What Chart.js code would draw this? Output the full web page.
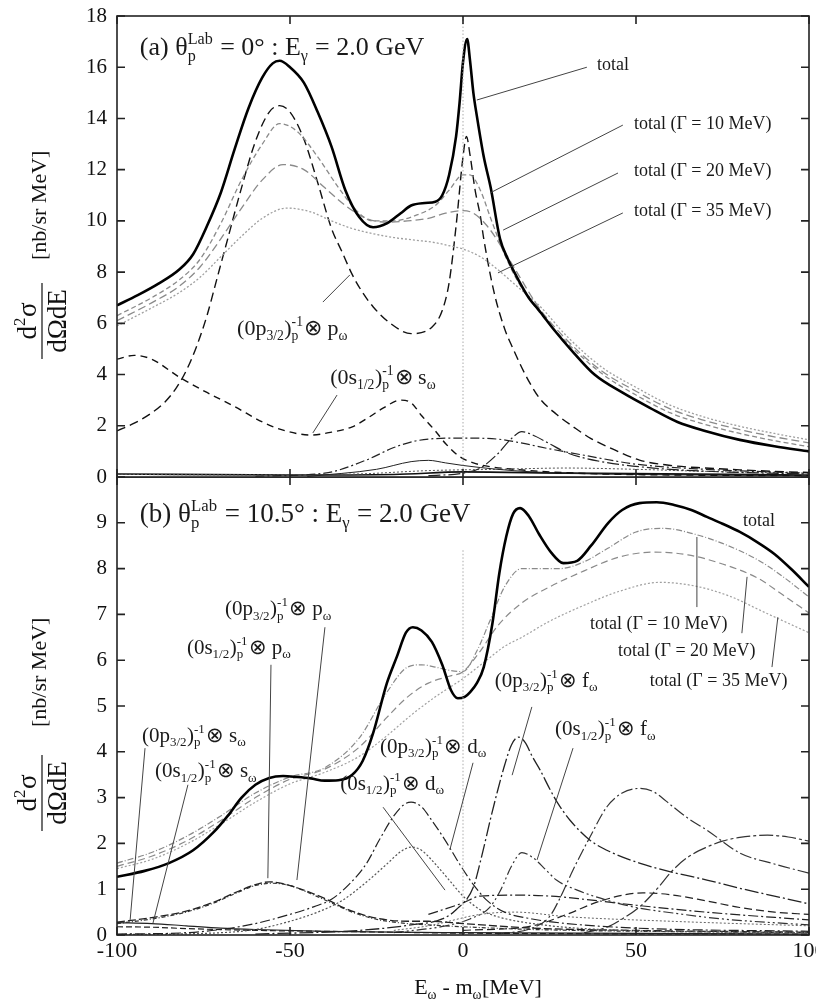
<!DOCTYPE html>
<html lang="en">
<head>
<meta charset="UTF-8">
<title>omega spectra</title>
<script src="https://cdn.jsdelivr.net/npm/chart.js"></script>
<style>
  body { margin: 0; background: #fff; width: 816px; height: 999px; position: relative; overflow: hidden; }
  canvas { position: absolute; left: 0; }
  #topPanel { top: 0; }
  #botPanel { top: 477px; }
</style>
</head>
<body>
<canvas id="topPanel" width="816" height="490"></canvas>
<canvas id="botPanel" width="816" height="522"></canvas>
<script>
// ---- data, panel (a) ----
const xTickValues = [-100, -50, 0, 50, 100];

const aTotalX = [-100,-94,-88,-82,-78,-74,-70,-66,-62,-58,-55,-53,-50,-46,-42,-38,-34,-30,-26,-22,-18,-15,-11,-8,-6,-4,-2,-1,0,1.2,2,3,4,6,8,10.7,13,16,19,22,26,32,38,46,54,62,70,80,90,100];
const aTotalY = [6.7,7.1,7.55,8.1,8.7,9.8,11.1,12.8,14.4,15.6,16.15,16.25,16.0,15.4,14.25,12.9,11.2,10.15,9.75,9.9,10.3,10.6,10.7,10.75,11.0,11.8,13.3,14.6,16.2,17.1,16.3,15.0,14.1,12.5,11.3,9.3,8.5,7.7,7.0,6.5,5.8,4.85,4.0,3.3,2.7,2.15,1.8,1.45,1.2,1.0];

const aG10X = [-100,-90,-82,-76,-70,-64,-58,-53,-48,-42,-36,-30,-26,-20,-14,-8,-4,0,2,5,8,12,16,22,30,40,50,60,70,80,90,100];
const aG10Y = [6.3,7.0,7.7,8.5,9.9,11.6,13.0,13.8,13.5,12.5,11.3,10.3,10.0,10.0,10.2,10.6,11.2,11.8,11.8,11.2,10.1,8.7,7.6,6.45,5.25,4.05,3.2,2.5,2.05,1.7,1.42,1.18];

const aG20X = [-100,-90,-82,-76,-70,-64,-58,-52,-46,-40,-34,-28,-22,-16,-10,-5,0,3,7,12,16,22,30,40,50,60,70,80,90,100];
const aG20Y = [6.1,6.8,7.45,8.2,9.3,10.5,11.6,12.2,12.0,11.3,10.6,10.1,9.95,10.0,10.1,10.3,10.4,10.3,9.8,8.8,7.9,6.6,5.35,4.15,3.35,2.65,2.2,1.85,1.57,1.33];

const aG35X = [-100,-90,-82,-76,-70,-64,-58,-51,-44,-38,-32,-26,-20,-14,-8,-3,0,5,10,16,22,30,40,50,60,70,80,90,100];
const aG35Y = [5.9,6.6,7.2,7.8,8.6,9.4,10.1,10.5,10.35,10.0,9.7,9.5,9.35,9.25,9.15,9.0,8.9,8.6,8.1,7.4,6.7,5.5,4.3,3.5,2.8,2.33,1.98,1.7,1.45];

const aP32pX = [-100,-95,-90,-86,-83,-80,-77,-74,-71,-68,-64,-60,-56,-53,-50,-46,-42,-38,-35,-32,-29,-26,-21,-15,-9,-6,-4,-2,0,1,2,3.5,5,6,9,12,14.5,18,22,27,32,37,42,51,60,70,80,90,100];
const aP32pY = [1.8,2.1,2.5,2.95,3.45,4.15,5.1,6.3,7.8,9.3,11.3,13.1,14.25,14.5,14.25,13.2,11.5,9.7,8.8,7.9,7.2,6.65,6.0,5.6,5.85,6.5,7.6,9.8,12.5,13.3,12.6,11.2,10.2,9.3,7.2,5.8,5.0,4.0,3.1,2.45,1.95,1.5,1.17,0.66,0.45,0.35,0.28,0.22,0.18];

const aS12sX = [-100,-95,-90,-82,-74,-66,-58,-52,-44,-38,-32,-27,-23,-18,-15,-12,-8,-5,-1,3,8,15,25,40,60,100];
const aS12sY = [4.6,4.75,4.6,3.9,3.3,2.75,2.15,1.83,1.64,1.75,1.96,2.35,2.7,3.0,2.9,2.4,1.8,1.3,0.8,0.55,0.4,0.3,0.2,0.12,0.08,0.05];

const aC1X = [-60,-40,-28,-20,-14,-8,0,10,16,25,35,50,70,100];
const aC1Y = [0.03,0.15,0.66,1.15,1.4,1.5,1.52,1.48,1.35,1.1,0.85,0.5,0.3,0.15];
const aC2X = [-10,0,5,10,14,17,20,25,30,40,55,75,100];
const aC2Y = [0.05,0.15,0.35,0.9,1.5,1.77,1.65,1.3,0.95,0.6,0.35,0.2,0.12];
const aC3X = [-45,-25,-15,-10,-5,0,10,20,40,100];
const aC3Y = [0.02,0.3,0.6,0.65,0.55,0.45,0.3,0.2,0.12,0.05];
const aC4X = [-100,-60,-30,-10,10,30,50,70,100];
const aC4Y = [0.1,0.08,0.12,0.25,0.3,0.35,0.3,0.22,0.15];
const aC5X = [-100,-50,-20,0,30,100];
const aC5Y = [0.12,0.08,0.1,0.2,0.15,0.08];

// ---- data, panel (b) ----
const bTotalX = [-100,-92,-85,-78,-72,-68,-64,-60,-56,-52,-48,-44,-40,-36,-32,-29,-26,-22,-19,-16.5,-14.5,-12,-9,-6,-3.5,-1.5,0.5,2,4,6,8.5,10.5,12.5,14.5,16.5,19,22,25.5,29,33,37,42,46,51,56,61,66,70.5,75,80,85,90,95,100];
const bTotalY = [1.27,1.4,1.57,1.85,2.25,2.6,3.0,3.28,3.43,3.47,3.45,3.42,3.37,3.38,3.5,3.8,4.4,5.5,6.1,6.6,6.72,6.65,6.4,5.9,5.35,5.17,5.2,5.3,5.5,5.85,6.8,7.9,8.7,9.2,9.32,9.15,8.75,8.35,8.12,8.17,8.5,9.0,9.28,9.43,9.45,9.39,9.28,9.13,8.98,8.8,8.58,8.32,7.98,7.6];

const bG10X = [-100,-90,-80,-70,-60,-50,-40,-30,-22,-16,-12,-8,-4,0,4,8,12,17,22,28,35,42,50,58,67,75,85,92,100];
const bG10Y = [1.57,1.8,2.15,2.6,3.1,3.45,3.65,4.3,5.3,5.85,5.9,5.85,5.78,5.75,6.2,6.9,7.6,8.0,8.0,8.0,8.15,8.45,8.8,8.88,8.75,8.55,8.2,7.85,7.38];

const bG20X = [-100,-90,-80,-70,-60,-50,-40,-30,-22,-16,-10,-4,0,5,10,17,25,35,45,55,65,75,85,92,100];
const bG20Y = [1.5,1.72,2.05,2.5,3.0,3.4,3.62,4.1,4.75,5.2,5.5,5.65,5.75,6.2,6.75,7.25,7.6,7.95,8.25,8.36,8.3,8.1,7.8,7.45,7.03];

const bG35X = [-100,-90,-80,-70,-60,-50,-40,-30,-22,-15,-8,0,6,12,17,25,35,45,57,67,77,87,100];
const bG35Y = [1.45,1.65,1.98,2.42,2.9,3.3,3.55,3.9,4.35,4.8,5.2,5.6,5.95,6.3,6.5,6.85,7.2,7.5,7.7,7.62,7.4,7.05,6.6];

const bP32dX = [-100,-80,-70,-60,-50,-43,-38,-33,-28,-24,-20,-17,-15,-12,-9,-5,-1,3,7,12,20,30,50,100];
const bP32dY = [0.02,0.05,0.12,0.25,0.45,0.62,0.78,1.1,1.55,2.1,2.6,2.85,2.9,2.8,2.5,2.05,1.55,1.1,0.75,0.5,0.35,0.25,0.15,0.08];
const bS12dX = [-100,-70,-60,-50,-42,-35,-28,-22,-18,-15,-12,-8,-4,0,5,10,20,40,100];
const bS12dY = [0.01,0.05,0.12,0.3,0.5,0.75,1.15,1.55,1.82,1.92,1.85,1.55,1.2,0.85,0.55,0.4,0.25,0.12,0.05];

const bP32pX = [-100,-90,-80,-72,-66,-60,-56,-52,-46,-40,-34,-28,-22,-16,-10,0,20,50,100];
const bP32pY = [0.28,0.38,0.52,0.72,0.92,1.1,1.16,1.12,0.98,0.8,0.58,0.42,0.33,0.3,0.3,0.25,0.15,0.1,0.06];
const bS12pX = [-100,-90,-80,-72,-66,-60,-55,-50,-44,-38,-32,-26,-20,-10,0,20,100];
const bS12pY = [0.25,0.35,0.5,0.7,0.9,1.08,1.13,1.08,0.9,0.7,0.5,0.36,0.28,0.22,0.18,0.12,0.05];

const bP32sX = [-100,-90,-80,-70,-60,-40,0,100];
const bP32sY = [0.27,0.25,0.2,0.15,0.12,0.08,0.05,0.02];
const bS12sX = [-100,-90,-80,-60,-40,-20,0,100];
const bS12sY = [0.18,0.17,0.14,0.1,0.08,0.06,0.04,0.02];

const bP32fX = [-60,-30,-15,-6,-2,3,5.5,8,10,12,14,16,18,20,22.3,25,27.2,31,36.7,43,51,60,70.5,80,90,100];
const bP32fY = [0.02,0.1,0.22,0.35,0.55,1.05,1.75,2.55,3.15,3.7,4.15,4.32,4.2,3.9,3.6,3.2,2.9,2.5,2.07,1.8,1.57,1.38,1.2,1.02,0.85,0.68];
const bS12fX = [-20,-5,2,7.8,11,14,17,20,24,27,33,41.6,50,60.7,75,100];
const bS12fY = [0.05,0.2,0.35,0.61,1.0,1.5,1.8,1.7,1.42,1.2,0.98,0.76,0.6,0.48,0.35,0.22];

const bC50X = [10,20,25,28,31.8,36.7,41.6,46,51,55,60.7,65,70.5,80,90,100];
const bC50Y = [0.02,0.15,0.4,0.8,1.42,2.14,2.8,3.1,3.2,3.13,2.8,2.55,2.29,1.79,1.55,1.35];
const bC90X = [35,41.6,46,51,56,60.7,65,70.5,75,80,88,94,100];
const bC90Y = [0.05,0.17,0.35,0.61,1.0,1.42,1.7,1.92,2.05,2.13,2.18,2.14,2.05];
const bC1X = [0,20,30,40,52,60,70,80,90,100];
const bC1Y = [0.1,0.2,0.45,0.75,0.92,0.88,0.75,0.6,0.5,0.45];
const bC2X = [-10,0,5,15,25,35,50,70,100];
const bC2Y = [0.45,0.7,0.85,0.87,0.85,0.78,0.65,0.5,0.33];
const bC3X = [-20,-10,5,15,30,60,100];
const bC3Y = [0.1,0.2,0.45,0.5,0.4,0.3,0.2];

// ---- drawing helpers ----
const SERIF = '"Liberation Serif", "Times New Roman", serif';

function pts(xs, ys) { return xs.map((x, i) => ({ x: x, y: ys[i] })); }

function line(xs, ys, color, width, dash) {
  return {
    data: pts(xs, ys), borderColor: color, borderWidth: width, borderDash: dash || [],
    pointRadius: 0, fill: false, cubicInterpolationMode: 'monotone'
  };
}

// rich text parts: ['n', txt] normal, ['sub', txt], ['sup', txt], ['ss', 'sup|sub'] stacked
function richWidth(ctx, parts, size) {
  let w = 0;
  for (const [k, t] of parts) {
    if (k === 'n') { ctx.font = size + 'px ' + SERIF; w += ctx.measureText(t).width; }
    else if (k === 'ss') {
      const [a, b] = t.split('|');
      ctx.font = (size * 0.62) + 'px ' + SERIF;
      w += Math.max(ctx.measureText(a).width, ctx.measureText(b).width) + 1;
    } else { ctx.font = (size * 0.62) + 'px ' + SERIF; w += ctx.measureText(t).width + 0.5; }
  }
  return w;
}

function drawRich(ctx, x, base, parts, size, align) {
  if (align === 'center') x -= richWidth(ctx, parts, size) / 2;
  ctx.textAlign = 'left';
  ctx.textBaseline = 'alphabetic';
  const small = (size * 0.62) + 'px ' + SERIF;
  for (const [k, t] of parts) {
    if (k === 'n') {
      ctx.font = size + 'px ' + SERIF;
      ctx.fillText(t, x, base);
      x += ctx.measureText(t).width;
    } else if (k === 'ss') {
      const [a, b] = t.split('|');
      ctx.font = small;
      ctx.fillText(a, x, base - size * 0.42);
      ctx.fillText(b, x, base + size * 0.22);
      x += Math.max(ctx.measureText(a).width, ctx.measureText(b).width) + 1;
    } else {
      ctx.font = small;
      ctx.fillText(t, x, base + (k === 'sub' ? size * 0.22 : -size * 0.42));
      x += ctx.measureText(t).width + 0.5;
    }
  }
}

function hole(shell, j, wave) {
  return [['n', '(0' + shell], ['sub', j], ['n', ')'], ['ss', '-1|p'], ['n', '⊗ ' + wave], ['sub', 'ω']];
}

function drawYTitle(ctx, cx, cy, unitOffset) {
  ctx.save();
  ctx.translate(cx, cy);
  ctx.rotate(-Math.PI / 2);
  ctx.fillStyle = '#111';
  ctx.strokeStyle = '#111';
  ctx.lineWidth = 1.2;
  drawRich(ctx, 0, -6, [['n', 'd'], ['sup', '2'], ['n', 'σ']], 27, 'center');
  ctx.beginPath(); ctx.moveTo(-38, 0); ctx.lineTo(38, 0); ctx.stroke();
  drawRich(ctx, 0, 24, [['n', 'dΩdE']], 27, 'center');
  drawRich(ctx, unitOffset, 4, [['n', '[nb/sr MeV]']], 22, 'left');
  ctx.restore();
}

function framePlugin(p) {
  return {
    id: 'frame' + p.id,
    afterDatasetsDraw(chart) {
      const ctx = chart.ctx, a = chart.chartArea, x = chart.scales.x, y = chart.scales.y;
      ctx.save();
      // dotted line at E = m
      const x0 = x.getPixelForValue(0);
      ctx.strokeStyle = '#aaa'; ctx.lineWidth = 1; ctx.setLineDash([1.5, 2]);
      ctx.beginPath(); ctx.moveTo(x0, y.getPixelForValue(p.zeroTop)); ctx.lineTo(x0, a.bottom); ctx.stroke();
      ctx.setLineDash([]);
      // leader lines
      ctx.strokeStyle = '#444'; ctx.lineWidth = 1;
      for (const [x1, y1, x2, y2] of p.leaders) {
        ctx.beginPath();
        ctx.moveTo(x.getPixelForValue(x1), y.getPixelForValue(y1));
        ctx.lineTo(x.getPixelForValue(x2), y.getPixelForValue(y2));
        ctx.stroke();
      }
      // frame and inward ticks
      ctx.strokeStyle = '#222'; ctx.lineWidth = 1.6;
      ctx.strokeRect(a.left, a.top, a.width, a.height);
      ctx.beginPath();
      for (const v of xTickValues) {
        const px = x.getPixelForValue(v);
        ctx.moveTo(px, a.top); ctx.lineTo(px, a.top + 8);
        ctx.moveTo(px, a.bottom); ctx.lineTo(px, a.bottom - 8);
      }
      for (const t of y.ticks) {
        const py = y.getPixelForValue(t.value);
        ctx.moveTo(a.left, py); ctx.lineTo(a.left + 8, py);
        ctx.moveTo(a.right, py); ctx.lineTo(a.right - 8, py);
      }
      ctx.stroke();
      // labels
      ctx.fillStyle = '#1a1a1a';
      for (const n of p.notes) {
        drawRich(ctx, x.getPixelForValue(n.x), y.getPixelForValue(n.y) + n.size * 0.33, n.parts, n.size, 'left');
      }
      drawYTitle(ctx, 42, p.titleY, p.unitOffset);
      if (p.xTitle) {
        ctx.fillStyle = '#111';
        drawRich(ctx, 478, p.xTitleBase, [['n', 'E'], ['sub', 'ω'], ['n', ' - m'], ['sub', 'ω'], ['n', '[MeV]']], 22, 'center');
      }
      ctx.restore();
    }
  };
}

function makePanel(id, p) {
  return new Chart(document.getElementById(id), {
    type: 'line',
    data: { datasets: p.datasets },
    options: {
      responsive: false, animation: false, devicePixelRatio: 1,
      layout: { padding: p.padding },
      plugins: { legend: { display: false }, tooltip: { enabled: false } },
      scales: {
        x: {
          type: 'linear', min: -100, max: 100, display: p.showX,
          ticks: { stepSize: 50, maxRotation: 0, font: { family: SERIF, size: 22 }, color: '#111', padding: 3 },
          grid: { display: false, drawTicks: false }, border: { display: false },
          afterFit: s => { s.height = p.showX ? 64 : 0; s.paddingLeft = 0; s.paddingRight = 0; }
        },
        y: {
          min: 0, max: p.ymax,
          ticks: { stepSize: p.step, font: { family: SERIF, size: 21 }, color: '#111', padding: 10 },
          grid: { display: false, drawTicks: false }, border: { display: false },
          afterBuildTicks: s => { s.ticks = s.ticks.filter(t => t.value <= p.topTick); },
          afterFit: s => { s.width = 117; s.paddingTop = 0; s.paddingBottom = 0; }
        }
      }
    },
    plugins: [framePlugin(p)]
  });
}

// ---- panel (a) ----
makePanel('topPanel', {
  id: 'a', ymax: 18, step: 2, topTick: 18, zeroTop: 18, showX: false,
  padding: { top: 16, right: 7, bottom: 13, left: 0 },
  titleY: 321, unitOffset: 61,
  datasets: [
    line(aTotalX, aTotalY, '#000', 2.6),
    line(aG10X, aG10Y, '#8a8a8a', 1.3, [5, 3]),
    line(aG20X, aG20Y, '#8a8a8a', 1.3, [8, 4]),
    line(aG35X, aG35Y, '#a0a0a0', 1.3, [2, 2]),
    line(aP32pX, aP32pY, '#111', 1.4, [9, 5]),
    line(aS12sX, aS12sY, '#111', 1.4, [7, 5]),
    line(aC1X, aC1Y, '#222', 1.2, [9, 3, 2, 3]),
    line(aC2X, aC2Y, '#222', 1.2, [12, 3, 2, 3]),
    line(aC3X, aC3Y, '#222', 1.0),
    line(aC4X, aC4Y, '#555', 1.0, [2, 2]),
    line(aC5X, aC5Y, '#111', 1.6)
  ],
  leaders: [
    [35.8, 16.0, 4.0, 14.72],
    [46.2, 13.74, 7.8, 11.09],
    [44.8, 11.87, 11.6, 9.64],
    [46.2, 10.31, 10.1, 7.97],
    [-40.5, 6.83, -32.7, 7.89],
    [-36.4, 3.2, -43.4, 1.72]
  ],
  notes: [
    { x: -93.4, y: 16.8, size: 26, parts: [['n', '(a) θ'], ['ss', 'Lab|p'], ['n', ' = 0° : E'], ['sub', 'γ'], ['n', ' = 2.0 GeV']] },
    { x: 38.7, y: 16.13, size: 18, parts: [['n', 'total']] },
    { x: 49.4, y: 13.82, size: 18, parts: [['n', 'total (Γ = 10 MeV)']] },
    { x: 49.4, y: 11.99, size: 18, parts: [['n', 'total (Γ = 20 MeV)']] },
    { x: 49.4, y: 10.43, size: 18, parts: [['n', 'total (Γ = 35 MeV)']] },
    { x: -65.3, y: 5.82, size: 22, parts: hole('p', '3/2', 'p') },
    { x: -38.4, y: 3.9, size: 22, parts: hole('s', '1/2', 's') }
  ]
});

// ---- panel (b) ----
makePanel('botPanel', {
  id: 'b', ymax: 10, step: 1, topTick: 9, zeroTop: 8.4, showX: true,
  padding: { top: 0, right: 7, bottom: 0, left: 0 },
  titleY: 316, unitOffset: 66, xTitle: true, xTitleBase: 517,
  datasets: [
    line(bTotalX, bTotalY, '#000', 2.6),
    line(bG10X, bG10Y, '#8a8a8a', 1.2, [6, 2, 1, 2]),
    line(bG20X, bG20Y, '#8a8a8a', 1.2, [7, 4]),
    line(bG35X, bG35Y, '#a0a0a0', 1.2, [2, 2]),
    line(bP32dX, bP32dY, '#222', 1.2, [10, 3, 2, 3]),
    line(bS12dX, bS12dY, '#555', 1.2, [2, 2]),
    line(bP32pX, bP32pY, '#222', 1.3, [8, 3]),
    line(bS12pX, bS12pY, '#333', 1.2, [4, 2, 1, 2]),
    line(bP32sX, bP32sY, '#222', 1.2),
    line(bS12sX, bS12sY, '#222', 1.2, [6, 3]),
    line(bP32fX, bP32fY, '#222', 1.3, [14, 3, 2, 3]),
    line(bS12fX, bS12fY, '#333', 1.2, [10, 3, 2, 3, 2, 3]),
    line(bC50X, bC50Y, '#333', 1.2, [12, 3, 2, 3]),
    line(bC90X, bC90Y, '#333', 1.2, [14, 3, 3, 3]),
    line(bC1X, bC1Y, '#222', 1.2, [8, 4]),
    line(bC2X, bC2Y, '#222', 1.2, [10, 3, 2, 3]),
    line(bC3X, bC3Y, '#666', 1.0, [2, 2])
  ],
  leaders: [
    [67.6, 8.69, 67.6, 7.16],
    [82.1, 7.82, 80.6, 6.59],
    [91.0, 6.94, 89.3, 5.85],
    [19.9, 4.98, 14.2, 3.49],
    [31.8, 4.08, 21.4, 1.64],
    [2.9, 3.76, -3.8, 1.86],
    [-23.1, 2.79, -5.2, 0.98],
    [-39.9, 6.72, -48.0, 1.2],
    [-55.5, 5.9, -56.4, 1.24],
    [-91.9, 4.08, -96.2, 0.33],
    [-79.5, 3.28, -89.6, 0.26]
  ],
  notes: [
    { x: -93.4, y: 9.21, size: 27, parts: [['n', '(b) θ'], ['ss', 'Lab|p'], ['n', ' = 10.5° : E'], ['sub', 'γ'], ['n', ' = 2.0 GeV']] },
    { x: 80.9, y: 9.06, size: 18, parts: [['n', 'total']] },
    { x: 36.7, y: 6.81, size: 18, parts: [['n', 'total (Γ = 10 MeV)']] },
    { x: 44.8, y: 6.22, size: 18, parts: [['n', 'total (Γ = 20 MeV)']] },
    { x: 54.0, y: 5.57, size: 18, parts: [['n', 'total (Γ = 35 MeV)']] },
    { x: 9.2, y: 5.57, size: 21, parts: hole('p', '3/2', 'f') },
    { x: 26.6, y: 4.52, size: 21, parts: hole('s', '1/2', 'f') },
    { x: -24.0, y: 4.13, size: 21, parts: hole('p', '3/2', 'd') },
    { x: -35.5, y: 3.32, size: 21, parts: hole('s', '1/2', 'd') },
    { x: -68.8, y: 7.14, size: 21, parts: hole('p', '3/2', 'p') },
    { x: -79.8, y: 6.29, size: 21, parts: hole('s', '1/2', 'p') },
    { x: -92.8, y: 4.37, size: 21, parts: hole('p', '3/2', 's') },
    { x: -89.0, y: 3.6, size: 21, parts: hole('s', '1/2', 's') }
  ]
});
</script>
</body>
</html>
